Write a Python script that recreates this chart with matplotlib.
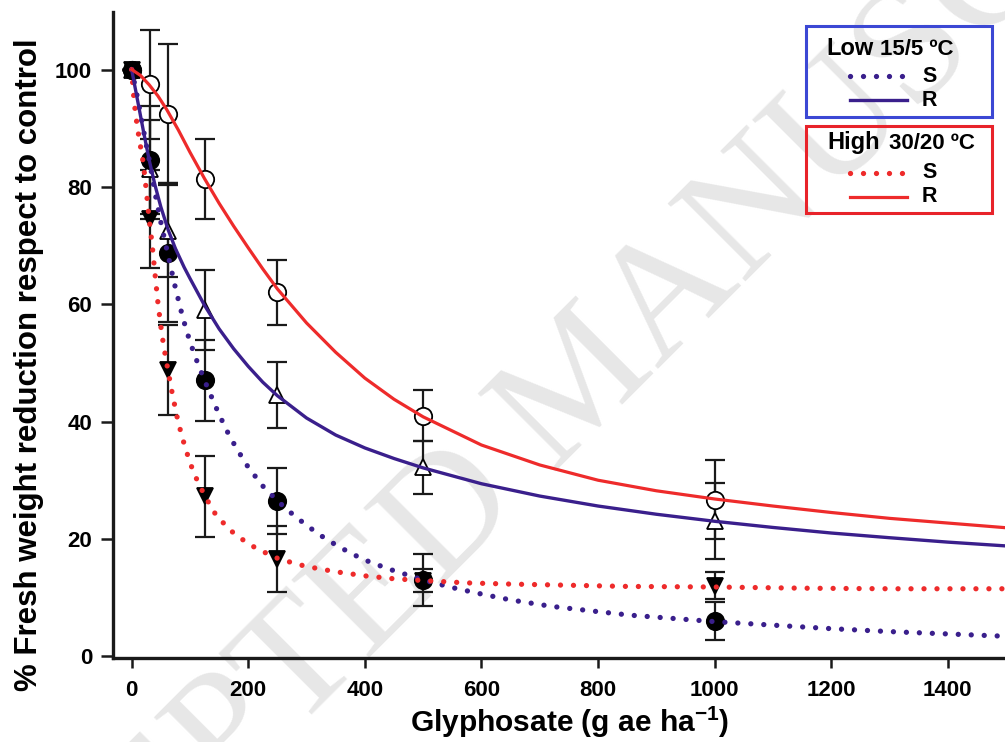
import numpy as np
import matplotlib
matplotlib.use("Agg")
import matplotlib.pyplot as plt
from matplotlib.patches import Rectangle
from matplotlib.lines import Line2D

plt.rcParams['font.family'] = ['Liberation Sans', 'DejaVu Sans']
plt.rcParams['mathtext.fontset'] = 'custom'
plt.rcParams['mathtext.bf'] = 'Liberation Sans:bold'
plt.rcParams['mathtext.rm'] = 'Liberation Sans:bold'
plt.rcParams['mathtext.default'] = 'bf'

# doses (g ae / ha)
doses = [0, 31.25, 62.5, 125, 250, 500, 1000]

# measured means and error bars
low_s_mean = [100, 84.5, 68.8, 47.0, 26.4, 13.0, 6.0]
low_s_err = [0, 9.2, 11.8, 6.9, 5.6, 4.5, 3.3]
low_r_mean = [100, 83.0, 72.5, 59.0, 44.5, 32.2, 23.0]
low_r_err = [0, 8.4, 7.8, 6.8, 5.6, 4.5, 6.5]
high_s_mean = [100, 74.5, 48.8, 27.3, 16.6, 12.9, 12.0]
high_s_err = [0, 8.3, 7.7, 6.9, 5.6, 2.0, 2.3]
high_r_mean = [100, 97.5, 92.5, 81.3, 62.0, 41.0, 26.7]
high_r_err = [0, 9.3, 11.9, 6.8, 5.6, 4.3, 6.7]

# fitted curves
high_r_cx = [0, 15, 30, 45, 60, 80, 100, 125, 150, 175, 200, 225, 250, 300, 350,
             400, 450, 500, 600, 700, 800, 900, 1000, 1100, 1200, 1300, 1400, 1500]
high_r_cy = [100, 99.0, 97.4, 95.5, 93.2, 89.7, 85.9, 81.4, 77.2, 73.3, 69.6, 66.0,
             62.6, 56.8, 51.8, 47.4, 43.8, 40.8, 36.0, 32.6, 30.0, 28.2, 26.8, 25.6,
             24.5, 23.5, 22.7, 21.9]

low_r_cx = [0, 10, 20, 30, 40, 50, 62.5, 75, 90, 100, 125, 150, 175, 200, 225, 250,
            300, 350, 400, 450, 500, 600, 700, 800, 900, 1000, 1100, 1200, 1300, 1400,
            1500]
low_r_cy = [100, 94.8, 89.6, 84.6, 80.3, 76.6, 72.7, 69.5, 66.3, 64.4, 59.8, 55.8,
            52.4, 49.4, 46.7, 44.4, 40.6, 37.7, 35.5, 33.7, 32.1, 29.4, 27.3, 25.6,
            24.2, 23.0, 21.95, 21.0, 20.2, 19.45, 18.8]

low_s_cx = [0, 10, 20, 31.25, 40, 50, 62.5, 75, 88, 100, 110, 125, 140, 150, 166, 180,
            200, 225, 250, 270, 300, 330, 350, 375, 400, 440, 500, 550, 600, 650, 720,
            800, 855, 1000, 1100, 1200, 1300, 1400, 1500]
low_s_cy = [100, 95.2, 89.8, 84.0, 79.0, 74.0, 68.3, 62.8, 57.6, 53.6, 50.8, 47.0,
            43.5, 41.2, 37.9, 35.4, 32.2, 29.0, 26.5, 24.7, 22.3, 20.2, 19.0, 17.6,
            16.4, 14.9, 13.0, 11.7, 10.6, 9.6, 8.5, 7.6, 7.0, 5.9, 5.3, 4.7, 4.2, 3.8, 3.4]

high_s_cx = [0, 3, 6, 10, 15, 20, 25, 30, 35, 40, 45, 50, 55, 62.5, 70, 80, 90, 100,
             110, 125, 145, 170, 190, 215, 250, 280, 300, 350, 400, 450, 500, 575, 650,
             750, 850, 1000, 1150, 1300, 1500]
high_s_cy = [100, 96.0, 93.0, 90.0, 87.0, 84.0, 79.5, 74.5, 70.3, 65.2, 60.3, 56.3,
             52.8, 48.6, 44.6, 39.8, 36.2, 33.0, 30.5, 27.4, 24.0, 21.4, 19.9, 18.3,
             16.7, 15.8, 15.3, 14.4, 13.7, 13.2, 12.9, 12.5, 12.3, 12.1, 11.9, 11.8,
             11.6, 11.5, 11.5]

xticks = [0, 200, 400, 600, 800, 1000, 1200, 1400]
yticks = [0, 20, 40, 60, 80, 100]

navy = '#3a1f8c'
red = '#ee2b2b'
W, H = 1005, 742


def fpx(x, y):
    return x / W, 1 - y / H


fig = plt.figure(figsize=(W / 100, H / 100), dpi=100)
ax = fig.add_axes([113 / W, 1 - 658 / H, (W - 113) / W, (658 - 12) / H])

# watermark
ax.text(*fpx(585, 385), "ACCEPTED MANUSCRIPT", transform=fig.transFigure,
        fontsize=120, family=['Liberation Serif', 'DejaVu Serif'], color='#e7e7e7',
        rotation=45, ha='center', va='center', rotation_mode='anchor',
        zorder=0.5, clip_on=False)

groups = [
    (high_r_mean, high_r_err, 'o', 'white', 12.5),
    (low_r_mean, low_r_err, '^', 'white', 12),
    (low_s_mean, low_s_err, 'o', 'black', 12.5),
    (high_s_mean, high_s_err, 'v', 'black', 12),
]
for mean, err, mk, fc, ms in groups:
    ax.errorbar(doses, mean, yerr=err, fmt='none', ecolor='#1a1a1a',
                elinewidth=1.6, capsize=7, capthick=1.6, zorder=2)
    ax.plot(doses, mean, linestyle='none', marker=mk, markersize=ms,
            markerfacecolor=fc, markeredgecolor='black', markeredgewidth=1.3, zorder=3)

dot = (0, (0.01, 2.45))
ax.plot(low_s_cx, low_s_cy, color=navy, lw=3.8, linestyle=dot,
        dash_capstyle='round', zorder=4)
ax.plot(high_s_cx, high_s_cy, color=red, lw=3.8, linestyle=dot,
        dash_capstyle='round', zorder=4)
ax.plot(low_r_cx, low_r_cy, color=navy, lw=2.4, zorder=4)
ax.plot(high_r_cx, high_r_cy, color=red, lw=2.3, zorder=4)

ax.set_xlim(-32, 1498)
ax.set_ylim(-0.3, 109.8)
ax.set_xticks(xticks)
ax.set_yticks(yticks)
for s in ['top', 'right']:
    ax.spines[s].set_visible(False)
for s in ['left', 'bottom']:
    ax.spines[s].set_linewidth(2.4)
    ax.spines[s].set_color('#1a1a1a')
ax.tick_params(axis='both', width=1.8, color='#1a1a1a', labelsize=16)
ax.tick_params(axis='x', length=7, pad=9)
ax.tick_params(axis='y', length=9, pad=6)
for lab in ax.get_xticklabels() + ax.get_yticklabels():
    lab.set_fontweight('bold')

fig.text(*fpx(29, 365), "% Fresh weight reduction respect to control", rotation=90,
         ha='center', va='center', fontsize=22.5, fontweight='bold')
fig.text(*fpx(570, 732), r"Glyphosate (g ae ha$^{-1}$)", ha='center', va='baseline',
         fontsize=21.5, fontweight='bold')

# legend boxes
for top, bot, ec in [(26, 117, '#3c48d4'), (126, 213, '#e8232a')]:
    x0, y0 = fpx(806, bot)
    x1, y1 = fpx(992, top)
    fig.add_artist(Rectangle((x0, y0), x1 - x0, y1 - y0, transform=fig.transFigure,
                             fill=False, edgecolor=ec, linewidth=2.2))

fig.text(*fpx(826, 55), "Low", fontsize=17, fontweight='bold', va='baseline')
fig.text(*fpx(880, 55), "15/5 \u00baC", fontsize=16, fontweight='bold', va='baseline')
fig.text(*fpx(827, 149), "High", fontsize=17, fontweight='bold', va='baseline')
fig.text(*fpx(889, 149), "30/20 \u00baC", fontsize=16, fontweight='bold', va='baseline')

for yy, col, ls, lw, lab in [(76, navy, dot, 3.8, 'S'), (100, navy, '-', 2.4, 'R'),
                             (173, red, dot, 3.8, 'S'), (197, red, '-', 2.3, 'R')]:
    xa, ya = fpx(850, yy)
    xb, yb = fpx(907, yy)
    fig.add_artist(Line2D([xa, xb], [ya, yb], transform=fig.transFigure, color=col,
                          lw=lw, linestyle=ls, dash_capstyle='round'))
    fig.text(*fpx(922, yy), lab, fontsize=15.5, fontweight='bold', va='center')

fig.savefig("out.png", dpi=100)
